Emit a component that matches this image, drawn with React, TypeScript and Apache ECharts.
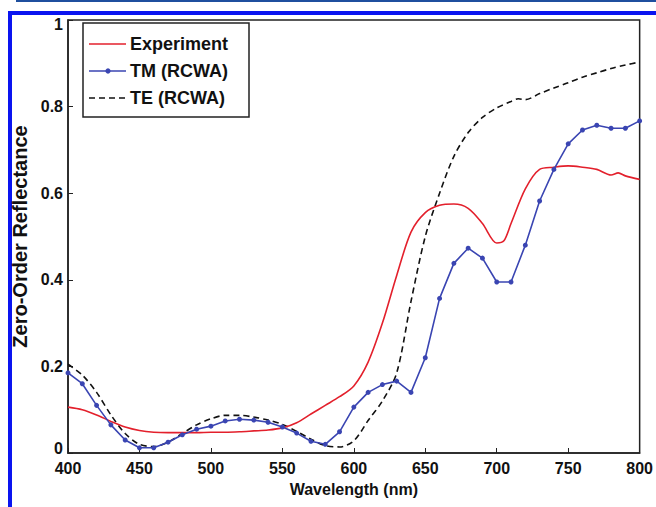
import React, { useEffect, useRef } from "react";
import * as echarts from "echarts";

const expX = [400, 410, 420, 430, 440, 450, 460, 470, 480, 490, 500, 510, 520, 530, 540, 550, 560, 570, 580, 590, 600, 610, 620, 630, 640, 650, 660, 670, 680, 690, 700, 705, 710, 720, 730, 740, 750, 760, 770, 780, 785, 790, 800];
const expY = [0.106, 0.1, 0.088, 0.073, 0.06, 0.052, 0.048, 0.047, 0.047, 0.047, 0.048, 0.048, 0.049, 0.051, 0.053, 0.058, 0.07, 0.09, 0.11, 0.13, 0.155, 0.21, 0.3, 0.41, 0.51, 0.555, 0.572, 0.575, 0.565, 0.53, 0.485, 0.49, 0.53, 0.61, 0.655, 0.66, 0.663, 0.66, 0.655, 0.642, 0.647, 0.64, 0.632];

const tmX = [400, 410, 420, 430, 440, 450, 460, 470, 480, 490, 500, 510, 520, 530, 540, 550, 560, 570, 580, 590, 600, 610, 620, 630, 640, 650, 660, 670, 680, 690, 700, 710, 720, 730, 740, 750, 760, 770, 780, 790, 800];
const tmY = [0.185, 0.16, 0.11, 0.065, 0.03, 0.012, 0.012, 0.025, 0.042, 0.055, 0.062, 0.074, 0.078, 0.076, 0.071, 0.06, 0.046, 0.027, 0.02, 0.049, 0.106, 0.14, 0.158, 0.166, 0.14, 0.22, 0.357, 0.438, 0.473, 0.45, 0.395, 0.395, 0.48, 0.582, 0.655, 0.714, 0.746, 0.757, 0.75, 0.75, 0.767];

const teX = [400, 410, 420, 430, 440, 450, 460, 470, 480, 490, 500, 510, 520, 530, 540, 550, 560, 570, 580, 590, 600, 610, 620, 630, 640, 650, 660, 670, 680, 690, 700, 710, 715, 720, 730, 740, 750, 760, 770, 780, 790, 800];
const teY = [0.205, 0.18, 0.14, 0.088, 0.045, 0.02, 0.015, 0.025, 0.045, 0.065, 0.079, 0.087, 0.087, 0.083, 0.076, 0.066, 0.05, 0.032, 0.017, 0.014, 0.028, 0.075, 0.12, 0.185, 0.35, 0.5, 0.6, 0.685, 0.74, 0.775, 0.797, 0.812, 0.818, 0.816, 0.83, 0.843, 0.855, 0.868, 0.878, 0.888, 0.896, 0.903];

const seriesNames = ["Experiment", "TM (RCWA)", "TE (RCWA)"];
const seriesColors = ["#e3202c", "#3a45b2", "#111111"];
const xTitle = "Wavelength (nm)";
const yTitle = "Zero-Order Reflectance";

const FONT = "'Liberation Sans', Arial, Helvetica, sans-serif";

function zip(xs: number[], ys: number[]) {
  return xs.map((x, i) => [x, ys[i]]);
}

export default function App() {
  const ref = useRef<HTMLDivElement>(null);
  useEffect(() => {
    if (!ref.current) return;
    const chart = echarts.init(ref.current, undefined, { renderer: "svg" });
    const lblStyle = { fontFamily: FONT, fontWeight: "bold" as const, fontSize: 16, color: "#111" };
    const legendItems: any[] = [];
    const rows = [44, 71, 98];
    seriesNames.forEach((n, i) => {
      const y = rows[i];
      legendItems.push({
        type: "line",
        shape: { x1: 89, y1: y, x2: 126, y2: y },
        style: { stroke: seriesColors[i], lineWidth: 1.6, lineDash: i === 2 ? [6, 4] : null },
        silent: true,
      });
      if (i === 1) {
        legendItems.push({
          type: "circle",
          shape: { cx: 108, cy: y, r: 2.6 },
          style: { fill: seriesColors[i] },
          silent: true,
        });
      }
      legendItems.push({
        type: "text",
        x: 130,
        y: y,
        style: { text: n, fontFamily: FONT, fontWeight: "bold", fontSize: 18, fill: "#111", verticalAlign: "middle", align: "left" },
        silent: true,
      });
    });
    chart.setOption({
      animation: false,
      backgroundColor: "#ffffff",
      textStyle: { fontFamily: FONT },
      grid: {
        left: 68,
        right: 13,
        top: 20,
        bottom: 54,
        show: true,
        borderColor: "#222",
        borderWidth: 1.5,
        backgroundColor: "transparent",
      },
      xAxis: {
        type: "value",
        min: 400,
        max: 800,
        interval: 50,
        name: xTitle,
        nameLocation: "middle",
        nameGap: 28,
        nameTextStyle: { fontFamily: FONT, fontWeight: "bold", fontSize: 16, color: "#111" },
        axisLine: { show: true, lineStyle: { color: "#222", width: 1.5 } },
        axisTick: { show: true, inside: true, length: 5, lineStyle: { color: "#222", width: 1 } },
        axisLabel: { ...lblStyle, margin: 7 },
        splitLine: { show: false },
      },
      yAxis: {
        type: "value",
        min: 0,
        max: 1,
        interval: 0.2,
        name: yTitle,
        nameLocation: "middle",
        nameGap: 36,
        nameRotate: 90,
        nameTextStyle: { fontFamily: FONT, fontWeight: "bold", fontSize: 20, color: "#111" },
        axisLine: { show: true, lineStyle: { color: "#222", width: 1.5 } },
        axisTick: { show: true, inside: true, length: 5, lineStyle: { color: "#222", width: 1 } },
        axisLabel: {
          ...lblStyle,
          margin: 5,
          formatter: (v: number) => (v === 0 ? "{lo|0}" : v === 1 ? "{hi|1}" : String(v)),
          rich: {
            lo: { ...lblStyle, padding: [0, 0, 10, 0] },
            hi: { ...lblStyle, padding: [8, 0, 0, 0] },
          },
        },
        splitLine: { show: false },
      },
      graphic: [
        { type: "rect", shape: { x: 16, y: 0, width: 660, height: 2 }, style: { fill: "#1f4f9e" }, silent: true },
        { type: "rect", shape: { x: 10, y: 13, width: 700, height: 600 }, style: { fill: "none", stroke: "#0a14f0", lineWidth: 4 }, silent: true },
        {
          type: "group",
          z: 100,
          children: [
            { type: "rect", shape: { x: 83, y: 23, width: 166, height: 94 }, style: { fill: "#fff", stroke: "#222", lineWidth: 1.5 }, silent: true },
            ...legendItems,
          ],
        },
      ],
      series: [
        {
          name: seriesNames[0],
          type: "line",
          data: zip(expX, expY),
          smooth: 0.3,
          symbol: "none",
          lineStyle: { color: seriesColors[0], width: 1.6 },
          itemStyle: { color: seriesColors[0] },
          z: 3,
        },
        {
          name: seriesNames[1],
          type: "line",
          data: zip(tmX, tmY),
          symbol: "circle",
          symbolSize: 5,
          lineStyle: { color: seriesColors[1], width: 1.6 },
          itemStyle: { color: seriesColors[1] },
          z: 4,
        },
        {
          name: seriesNames[2],
          type: "line",
          data: zip(teX, teY),
          smooth: 0.3,
          symbol: "none",
          lineStyle: { color: seriesColors[2], width: 1.6, type: [6, 4] },
          itemStyle: { color: seriesColors[2] },
          z: 2,
        },
      ],
    });
    return () => chart.dispose();
  }, []);
  return (
    <div
      ref={ref}
      style={{ position: "fixed", left: 0, top: 0, width: 656, height: 507, background: "#fff" }}
    />
  );
}
